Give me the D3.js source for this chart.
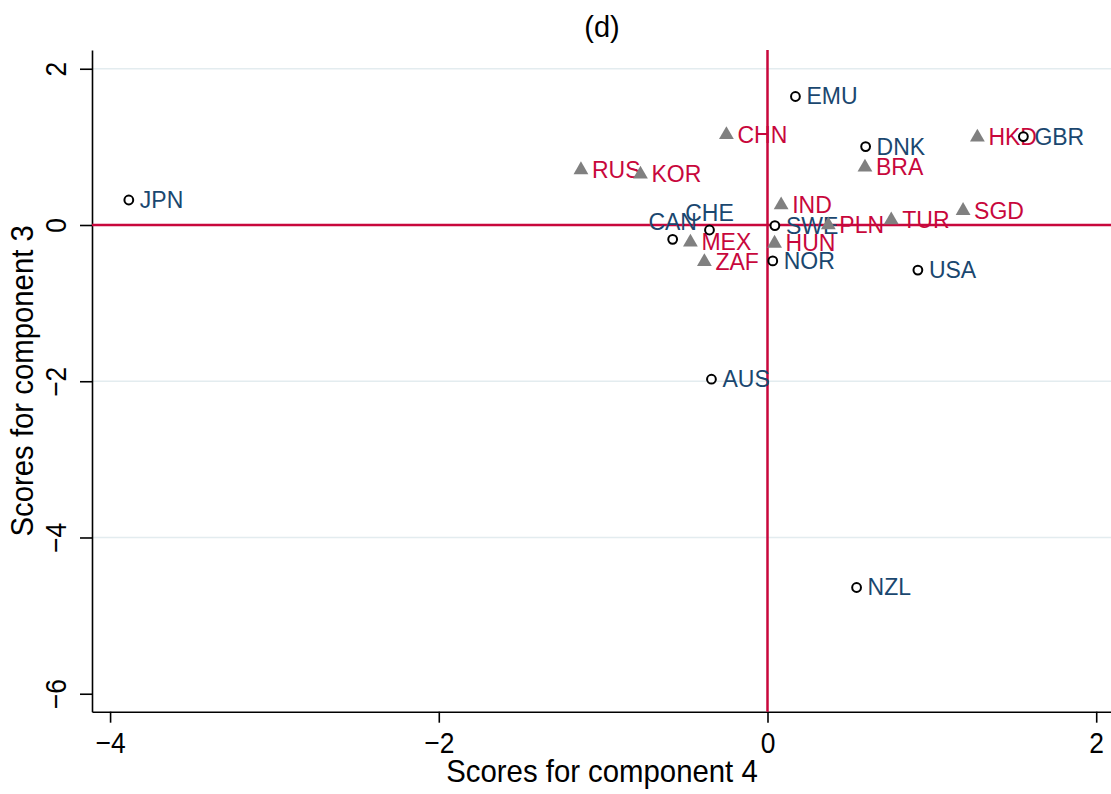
<!DOCTYPE html>
<html><head><meta charset="utf-8">
<script src="https://cdn.jsdelivr.net/npm/d3@7"></script>
<style>body{margin:0;background:#fff}</style>
</head><body>
<svg id="chart" width="1111" height="794"></svg>
<script>
// ---- data ----
const codes  = ["EMU","CHN","DNK","HKD","GBR","RUS","KOR","BRA","IND","SGD","TUR","PLN","SWE","CHE","CAN","MEX","HUN","ZAF","NOR","USA","JPN","AUS","NZL"];
const comp4  = [0.17,-0.25,0.597,1.277,1.557,-1.135,-0.773,0.593,0.083,1.19,0.753,0.37,0.045,-0.353,-0.577,-0.469,0.043,-0.384,0.032,0.915,-3.886,-0.341,0.542];
const comp3  = [1.645,1.154,1.004,1.124,1.132,0.705,0.65,0.74,0.256,0.184,0.064,0.0,-0.008,-0.064,-0.184,-0.222,-0.235,-0.47,-0.46,-0.577,0.32,-1.974,-4.64];
const groups = ["adv","em","adv","em","adv","em","em","em","em","em","em","em","adv","adv","adv","em","em","em","adv","adv","adv","adv","adv"];
const labelPos = [3,3,3,3,3,3,3,3,3,3,3,3,3,12,12,3,3,3,3,3,3,3,3];
const xTicks = [-4,-2,0,2];
const yTicks = [2,0,-2,-4,-6];
const gridTicks = [2,-2,-4];
const titleText = "(d)";
const xTitle = "Scores for component 4";
const yTitle = "Scores for component 3";

const RED = "#c8073c", BLUE = "#1a476f", GRAY = "#808080";
const FONT = "'Liberation Sans', Arial, sans-serif";

const svg = d3.select("#chart");
const x = d3.scaleLinear().domain([-4.11, 2.09]).range([92, 1111]);
const y = d3.scaleLinear().domain([-6.23, 2.24]).range([711.7, 50]);

// gridlines
svg.append("g").selectAll("line").data(gridTicks).join("line")
  .attr("x1", x.range()[0]).attr("x2", x.range()[1])
  .attr("y1", d => y(d)).attr("y2", d => y(d))
  .attr("stroke", "#e3ecef").attr("stroke-width", 1.6);

// axes
const fmt = d3.format("d");
const xAxis = svg.append("g").attr("transform", `translate(0,${y.range()[0]})`)
  .call(d3.axisBottom(x).tickValues(xTicks).tickFormat(fmt).tickSize(11).tickSizeOuter(0));
const yAxis = svg.append("g").attr("transform", `translate(${x.range()[0]},0)`)
  .call(d3.axisLeft(y).tickValues(yTicks).tickFormat(fmt).tickSize(12).tickSizeOuter(0));
[xAxis, yAxis].forEach(a => {
  a.select(".domain").attr("stroke", "#000").attr("stroke-width", 1.6);
  a.selectAll(".tick line").attr("stroke", "#000").attr("stroke-width", 1.6);
  a.selectAll("text").attr("fill", "#000").style("font-family", FONT).style("font-size", "30px");
});
xAxis.selectAll("text").attr("dy", null).attr("y", 41)
  .attr("transform", "scale(0.88,1)");
yAxis.selectAll("text")
  .attr("transform", "rotate(-90) scale(0.88,1)")
  .attr("x", 0).attr("y", -26).attr("dy", null)
  .attr("text-anchor", "middle");

// reference lines
svg.append("line").attr("x1", x.range()[0]).attr("x2", x.range()[1])
  .attr("y1", y(0)).attr("y2", y(0)).attr("stroke", RED).attr("stroke-width", 2.5);
svg.append("line").attr("x1", x(0)).attr("x2", x(0))
  .attr("y1", y.range()[1]).attr("y2", y.range()[0]).attr("stroke", RED).attr("stroke-width", 2.5);

const pts = codes.map((c, i) => ({code: c, x: comp4[i], y: comp3[i], g: groups[i], pos: labelPos[i]}));

// labels
svg.append("g").selectAll("text").data(pts).join("text")
  .attr("x", d => d.pos === 3 ? x(d.x) + 11 : x(d.x))
  .attr("y", d => d.pos === 3 ? y(d.y) + 8 : y(d.y) - 9)
  .attr("text-anchor", d => d.pos === 3 ? "start" : "middle")
  .attr("fill", d => d.g === "em" ? RED : BLUE)
  .style("font-family", FONT).style("font-size", "23px")
  .text(d => d.code);

// markers
const tri = d3.symbol().type(d3.symbolTriangle).size(95);
svg.append("g").selectAll("path").data(pts.filter(d => d.g === "em")).join("path")
  .attr("d", tri).attr("transform", d => `translate(${x(d.x)},${y(d.y)})`)
  .attr("fill", GRAY);
svg.append("g").selectAll("circle").data(pts.filter(d => d.g === "adv")).join("circle")
  .attr("cx", d => x(d.x)).attr("cy", d => y(d.y)).attr("r", 4.4)
  .attr("fill", "#fff").attr("stroke", "#000").attr("stroke-width", 2);

// titles
svg.append("text").attr("x", 602).attr("y", 37).attr("text-anchor", "middle")
  .style("font-family", FONT).style("font-size", "29px").text(titleText);
svg.append("text").attr("transform", "translate(602,782) scale(0.917,1)").attr("text-anchor", "middle")
  .style("font-family", FONT).style("font-size", "32px").text(xTitle);
svg.append("text").attr("transform", `translate(33,${(y.range()[0] + y.range()[1]) / 2}) rotate(-90) scale(0.917,1)`)
  .attr("text-anchor", "middle")
  .style("font-family", FONT).style("font-size", "32px").text(yTitle);
</script>
</body></html>
